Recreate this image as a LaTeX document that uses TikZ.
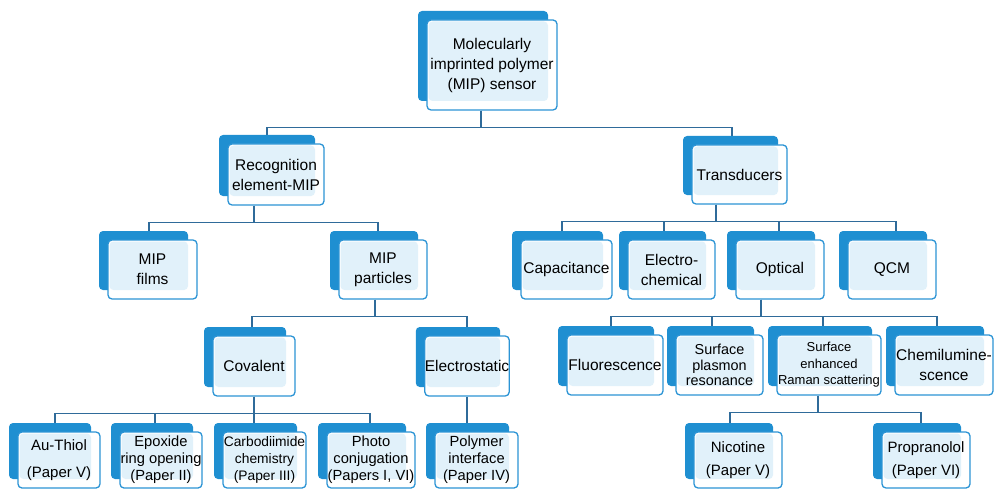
\documentclass[tikz,border=0pt]{standalone}
\usepackage{fontspec}
\setmainfont{Liberation Sans}
\usetikzlibrary{backgrounds}
\definecolor{backblue}{HTML}{1F8FD1}
\definecolor{edgeblue}{HTML}{2C94D5}
\definecolor{paleblue}{HTML}{E1F1FA}
\definecolor{linkblue}{HTML}{2F6B9A}
\tikzset{
  tile/.style={draw=edgeblue, line width=1.3pt, rounded corners=4pt, fill=white,
    inner sep=0pt, align=center, font=\fontsize{15.5}{20}\selectfont,
    preaction={fill=backblue, draw=none, transform canvas={shift={(-9pt,9pt)}}},
    path picture={\fill[paleblue] ([shift={(1.5pt,-1.5pt)}]path picture bounding box.north west)
      rectangle ([shift={(-9pt,9pt)}]path picture bounding box.south east);}},
  wh/.style 2 args={minimum width=#1pt, minimum height=#2pt},
  link/.style={draw=linkblue, line width=1.3pt},
}
\begin{document}
\begin{tikzpicture}[x=1pt, y=-1pt]
  \useasboundingbox (0,0) rectangle (995,489);
  % top
  \node[tile, wh={130}{90}] (sensor) at (492,65) {Molecularly\\imprinted polymer\\(MIP) sensor};
  % second row
  \node[tile, wh={96}{61}] (recog) at (276,174.5) {Recognition\\element-MIP};
  \node[tile, wh={95}{59}] (trans) at (739.5,174.5) {Transducers};
  % third row
  \node[tile, wh={89}{59}] (films) at (152.5,269.5) {MIP\\films};
  \node[tile, wh={88}{59}] (parts) at (383,269.5) {MIP\\particles};
  \node[tile, wh={91}{59}] (capac) at (566.5,269.5) {Capacitance};
  \node[tile, wh={87}{59}] (echem) at (671.5,269.5) {Electro-\\chemical};
  \node[tile, wh={88}{59}] (optic) at (780,269.5) {Optical};
  \node[tile, wh={88}{59}] (qcm) at (892,269.5) {QCM};
  % fourth row
  \node[tile, wh={82}{60}] (coval) at (254,366) {Covalent};
  \node[tile, wh={82}{60}] (estat) at (467,366) {Electrostatic};
  \node[tile, wh={96}{60}] (fluor) at (615,365) {Fluorescence};
  \node[tile, wh={87}{60}, font=\fontsize{14.4}{15.5}\selectfont] (spr) at (719.5,365) {Surface\\plasmon\\resonance};
  \node[tile, wh={104}{60}, font=\fontsize{13}{16.5}\selectfont] (sers) at (829,365) {Surface\\enhanced\\Raman scattering};
  \node[tile, wh={98}{60}] (chemi) at (944,365) {Chemilumine-\\scence};
  % bottom row
  \node[tile, wh={82}{56}, font=\fontsize{15}{20}\selectfont] (thiol) at (59,460) {Au-Thiol\\[7pt](Paper V)};
  \node[tile, wh={82}{56}, font=\fontsize{14.7}{17}\selectfont] (epox) at (161,460) {Epoxide\\ring opening\\(Paper II)};
  \node[tile, wh={83}{56}, font=\fontsize{13.8}{17}\selectfont] (carbo) at (264.5,460) {Carbodiimide\\chemistry\\(Paper III)};
  \node[tile, wh={88}{56}, font=\fontsize{14.7}{17}\selectfont] (photo) at (371,460) {Photo\\conjugation\\(Papers I, VI)};
  \node[tile, wh={83}{56}, font=\fontsize{14.7}{17}\selectfont] (polym) at (476.5,460) {Polymer\\interface\\(Paper IV)};
  \node[tile, wh={88}{56}, font=\fontsize{15}{20}\selectfont] (nicot) at (738,460) {Nicotine\\[3pt](Paper V)};
  \node[tile, wh={88}{56}, font=\fontsize{15}{20}\selectfont] (propr) at (926,460) {Propranolol\\[3pt](Paper VI)};
  % connectors
  \begin{scope}[on background layer]
    \foreach \src/\sx/\dst/\tx in {sensor/-11/recog/-9, sensor/-11/trans/-7.5,
        recog/-22/films/-3.5, recog/-22/parts/-5,
        trans/-23.5/capac/-4.5, trans/-23.5/echem/-7.5, trans/-23.5/optic/-1, trans/-23.5/qcm/4,
        parts/-8/coval/-2, parts/-8/estat/0,
        optic/-19/fluor/-4, optic/-19/spr/-7.5, optic/-19/sers/-6, optic/-19/chemi/-7,
        coval/0/thiol/-4, coval/0/epox/-6, coval/0/carbo/-10.5, coval/0/photo/-1,
        estat/0/polym/-9.5,
        sers/-11/nicot/-8, sers/-11/propr/-5}
      \path[link] ([xshift=\sx pt]\src.south) -- ++(0,17) -| ([xshift=\tx pt]\dst.north);
  \end{scope}
\end{tikzpicture}
\end{document}
